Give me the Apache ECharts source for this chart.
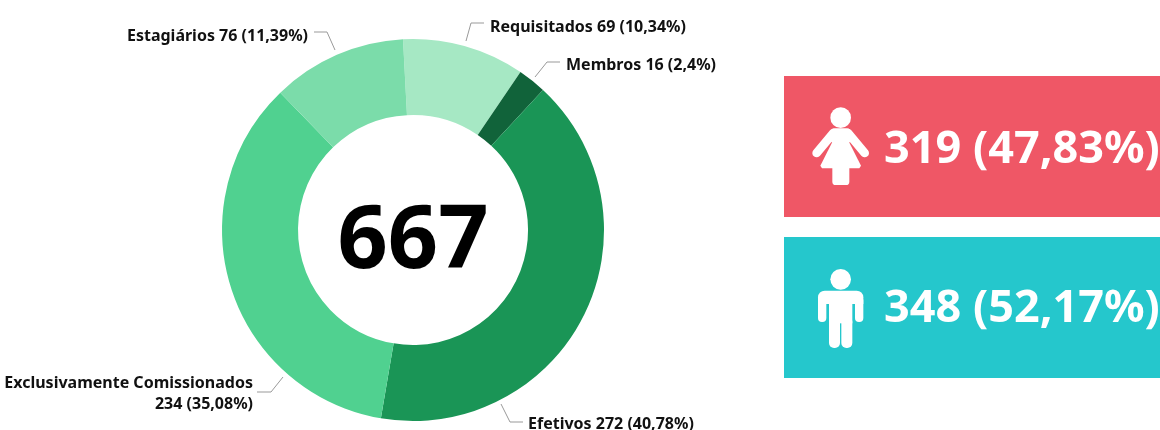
<!DOCTYPE html>
<html>
<head>
<meta charset="utf-8">
<style>html,body{margin:0;padding:0;background:#fff}#c{width:1160px;height:430px}</style>
<script src="https://cdn.jsdelivr.net/npm/echarts@6/dist/echarts.min.js"></script>
</head>
<body>
<div id="c"></div>
<script>
const categories = ["Requisitados", "Membros", "Efetivos", "Exclusivamente Comissionados", "Estagiários"];
const values = [69, 16, 272, 234, 76];
const percentLabels = ["10,34", "2,4", "40,78", "35,08", "11,39"];
const sliceColors = ["#a6e8c4", "#11633a", "#1a9556", "#50d190", "#7bdcaa"];
const totalValue = 667;
const genderLabels = ["319 (47,83%)", "348 (52,17%)"];
const FONT = '"Noto Sans", sans-serif';

const labelPlacement = [
  {x: 490, y: 27, align: 'left', verticalAlign: 'middle', labelLinePoints: [[466, 41], [471, 23], [484, 23]]},
  {x: 566, y: 65, align: 'left', verticalAlign: 'middle', labelLinePoints: [[535, 77], [547, 62], [560, 62]]},
  {x: 528, y: 424, align: 'left', verticalAlign: 'middle', labelLinePoints: [[501, 404], [510, 422], [523, 422]]},
  {x: 253, y: 394, align: 'right', verticalAlign: 'middle', labelLinePoints: [[283, 377], [271, 392], [257, 392]]},
  {x: 308, y: 36, align: 'right', verticalAlign: 'middle', labelLinePoints: [[335, 50], [327, 32], [314, 32]]}
];

const W = {fill: '#fff'};
const armStyle = {stroke: '#fff', lineWidth: 26, lineCap: 'round', fill: 'none'};
const femaleIcon = [
  {type: 'circle', shape: {cx: 122, cy: 68, r: 31}, style: W},
  {type: 'line', shape: {x1: 100, y1: 114, x2: 50, y2: 174}, style: armStyle},
  {type: 'line', shape: {x1: 144, y1: 114, x2: 194, y2: 174}, style: armStyle},
  {type: 'rect', shape: {x: 90, y: 100, width: 64, height: 45, r: 14}, style: W},
  {type: 'polygon', shape: {points: [[100, 135], [144, 135], [183, 212], [178, 220], [66, 220], [61, 212]]}, style: W},
  {type: 'rect', shape: {x: 97, y: 205, width: 51, height: 65, r: 10}, style: W}
];
const maleIcon = [
  {type: 'circle', shape: {cx: 182, cy: 628, r: 31}, style: W},
  {type: 'rect', shape: {x: 114, y: 662, width: 136, height: 40, r: [20, 20, 0, 0]}, style: W},
  {type: 'rect', shape: {x: 114, y: 680, width: 25, height: 76, r: 12}, style: W},
  {type: 'rect', shape: {x: 225, y: 680, width: 25, height: 76, r: 12}, style: W},
  {type: 'rect', shape: {x: 147, y: 680, width: 70, height: 80}, style: W},
  {type: 'rect', shape: {x: 147, y: 740, width: 33, height: 94, r: 15}, style: W},
  {type: 'rect', shape: {x: 184, y: 740, width: 33, height: 94, r: 15}, style: W}
];

const chart = echarts.init(document.getElementById('c'), null, {renderer: 'canvas'});
chart.setOption({
  animation: false,
  graphic: [
    {type: 'rect', shape: {x: 784, y: 76, width: 376, height: 141}, style: {fill: '#ef5766'}},
    {type: 'rect', shape: {x: 784, y: 237, width: 376, height: 141}, style: {fill: '#25c7cc'}},
    {type: 'group', x: 800, y: 95, scaleX: 1/3, scaleY: 1/3, children: femaleIcon},
    {type: 'group', x: 780, y: 70, scaleX: 1/3, scaleY: 1/3, children: maleIcon},
    {type: 'text', x: 884, y: 150, style: {text: genderLabels[0], fill: '#fff', font: '700 45px ' + FONT, textVerticalAlign: 'middle'}},
    {type: 'text', x: 884, y: 309, style: {text: genderLabels[1], fill: '#fff', font: '700 45px ' + FONT, textVerticalAlign: 'middle'}},
    {type: 'text', x: 413, y: 243, style: {text: String(totalValue), fill: '#000', font: '700 88px ' + FONT, textAlign: 'center', textVerticalAlign: 'middle'}}
  ],
  series: [{
    type: 'pie',
    center: [413, 230],
    radius: [115, 191],
    startAngle: 93,
    clockwise: true,
    avoidLabelOverlap: false,
    data: categories.map((n, i) => ({name: n, value: values[i], itemStyle: {color: sliceColors[i]}})),
    label: {
      color: '#111',
      fontFamily: FONT,
      fontWeight: 700,
      fontSize: 16,
      lineHeight: 21,
      formatter: p => {
        const sep = p.name === "Exclusivamente Comissionados" ? "\n" : " ";
        return p.name + sep + p.value + " (" + percentLabels[p.dataIndex] + "%)";
      }
    },
    labelLine: {show: true, lineStyle: {color: '#999', width: 1}},
    labelLayout: p => labelPlacement[p.dataIndex],
    emphasis: {disabled: true}
  }]
});
</script>
</body>
</html>
